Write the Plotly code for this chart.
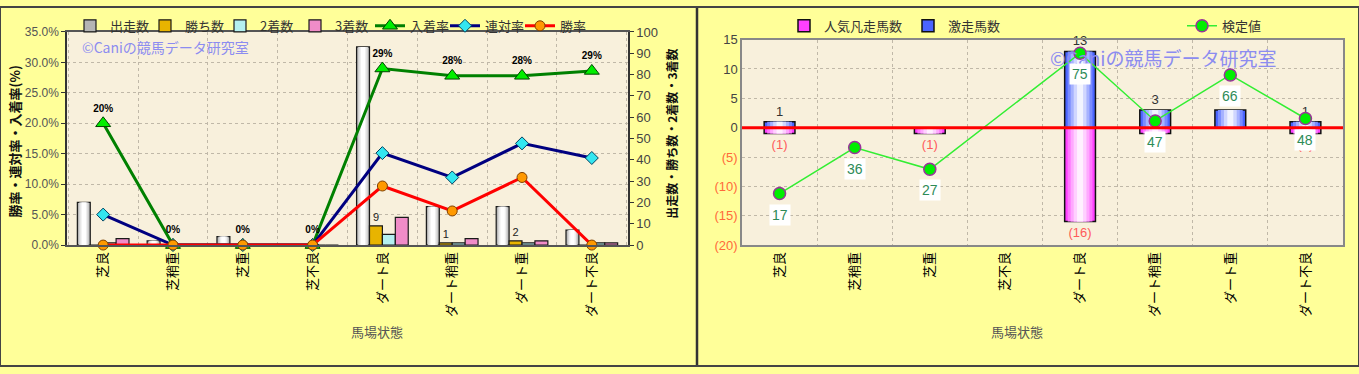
import plotly.graph_objects as go

# ---------------- data ----------------
categories = ["芝良", "芝稍重", "芝重", "芝不良", "ダート良", "ダート稍重", "ダート重", "ダート不良"]

# left chart (counts, right axis)
starts = [20, 2, 4, 0, 93, 18, 18, 7]      # 出走数
wins = [0, 0, 0, 0, 9, 1, 2, 0]            # 勝ち数
seconds = [1, 0, 0, 0, 5, 1, 1, 1]         # 2着数
thirds = [3, 0, 0, 0, 13, 3, 2, 1]         # 3着数
# left chart (rates %, left axis)
place_rate = [20.0, 0, 0, 0, 29.0, 27.8, 27.8, 28.6]     # 入着率
quinella_rate = [5.0, 0, 0, 0, 15.1, 11.1, 16.7, 14.3]   # 連対率
win_rate = [0, 0, 0, 0, 9.7, 5.6, 11.1, 0]               # 勝率

# right chart
surge = [1, 0, 0, 0, 13, 3, 3, 1]          # 激走馬数
flop = [1, 0, 1, 0, 16, 1, 0, 1]           # 人気凡走馬数 (plotted downward)
test_value = [17, 36, 27, None, 75, 47, 66, 48]  # 検定値

left_ticks = [0, 5, 10, 15, 20, 25, 30, 35]
right_ticks = [-20, -15, -10, -5, 0, 5, 10, 15]

JP = "Noto Sans CJK JP"
NUM = "Liberation Sans, Noto Sans CJK JP"

fig = go.Figure()

# ---------- left chart bars ----------
bar_specs = [
    ("出走数", starts, "#b4b4b4", "a"),
    ("勝ち数", wins, "#e8b400", "b"),
    ("2着数", seconds, "#b4f0f0", "c"),
    ("3着数", thirds, "#f08cc8", "d"),
]
for name, vals, col, og in bar_specs:
    fig.add_trace(go.Bar(
        name=name, x=categories, y=vals, xaxis="x", yaxis="y",
        offsetgroup=og, legend="legend",
        marker=dict(color=col, line=dict(color="#1a1a1a", width=1.2)),
        text=[str(v) if (name == "勝ち数" and v > 0) else "" for v in vals],
        textposition="outside", cliponaxis=False,
        textfont=dict(size=11, color="#222", family=NUM),
        hoverinfo="skip",
    ))
# cylinder shading for 出走数
for w, c in [(0.14, "#d6d6d6"), (0.10, "#eeeeee"), (0.06, "#ffffff")]:
    fig.add_trace(go.Bar(
        x=categories, y=starts, xaxis="x", yaxis="y", offsetgroup="a", width=w,
        marker=dict(color=c, line=dict(width=0)), showlegend=False, hoverinfo="skip",
    ))

# ---------- left chart lines ----------
fig.add_trace(go.Scatter(
    name="入着率", x=categories, y=place_rate, xaxis="x", yaxis="y2", legend="legend",
    mode="lines+markers+text",
    text=[f"{v:.0f}%" for v in place_rate], textposition="top center",
    textfont=dict(size=10, color="#000", family=NUM, weight="bold"),
    line=dict(color="#008000", width=3),
    marker=dict(symbol="triangle-up", size=13, color="#00ee00", line=dict(color="#004400", width=1)),
    cliponaxis=False,
))
fig.add_trace(go.Scatter(
    name="連対率", x=categories, y=quinella_rate, xaxis="x", yaxis="y2", legend="legend",
    mode="lines+markers",
    line=dict(color="#000080", width=3),
    marker=dict(symbol="diamond", size=10, color="#33e6f0", line=dict(color="#004060", width=1)),
    cliponaxis=False,
))
fig.add_trace(go.Scatter(
    name="勝率", x=categories, y=win_rate, xaxis="x", yaxis="y2", legend="legend",
    mode="lines+markers",
    line=dict(color="#ff0000", width=3),
    marker=dict(symbol="circle", size=10, color="#ff9900", line=dict(color="#804000", width=1)),
    cliponaxis=False,
))

# ---------- right chart bars (cylinder-like shading with inner layers) ----------
flop_y = [-v for v in flop]
fig.add_trace(go.Bar(
    name="人気凡走馬数", x=categories, y=flop_y, xaxis="x3", yaxis="y3",
    offsetgroup="r", width=0.41, legend="legend2",
    marker=dict(color="#ff40ff", line=dict(color="#111", width=1.5)),
    text=[f"({v})" if v > 0 else "" for v in flop], textposition="outside",
    textfont=dict(size=13, color="#ff5a5a", family=NUM), cliponaxis=False,
    hoverinfo="skip",
))
for w, c in [(0.33, "#ff78ff"), (0.25, "#ffa8ff"), (0.17, "#ffd0ff"), (0.08, "#fff0ff")]:
    fig.add_trace(go.Bar(
        x=categories, y=flop_y, xaxis="x3", yaxis="y3", offsetgroup="r", width=w,
        marker=dict(color=c, line=dict(width=0)), showlegend=False, hoverinfo="skip",
    ))
fig.add_trace(go.Bar(
    name="激走馬数", x=categories, y=surge, xaxis="x3", yaxis="y3",
    offsetgroup="r", width=0.41, legend="legend2",
    marker=dict(color="#4a64ff", line=dict(color="#111", width=1.5)),
    text=[str(v) if v > 0 else "" for v in surge], textposition="outside",
    textfont=dict(size=13, color="#333", family=NUM), cliponaxis=False,
    hoverinfo="skip",
))
for w, c in [(0.33, "#7a8cff"), (0.25, "#a6b2ff"), (0.17, "#d0d6ff"), (0.08, "#f2f4ff")]:
    fig.add_trace(go.Bar(
        x=categories, y=surge, xaxis="x3", yaxis="y3", offsetgroup="r", width=w,
        marker=dict(color=c, line=dict(width=0)), showlegend=False, hoverinfo="skip",
    ))
fig.add_trace(go.Scatter(
    name="検定値", x=categories, y=test_value, xaxis="x3", yaxis="y4", legend="legend3",
    mode="lines+markers", connectgaps=True,
    line=dict(color="#33ee33", width=1.5),
    marker=dict(symbol="circle", size=12, color="#00ee00", line=dict(color="#993399", width=1.5)),
    cliponaxis=False,
))

annotations = []
# value labels for 検定値
for c, v in zip(categories, test_value):
    if v is None:
        continue
    annotations.append(dict(
        x=c, y=v, xref="x3", yref="y4", text=str(v), showarrow=False,
        yshift=-21, bgcolor="#ffffff", borderpad=2,
        font=dict(size=14, color="#2e8b57", family=NUM),
    ))

# watermarks
watermarks = [
    dict(x=80 / 1359, y=1 - 42 / 374, text="©Caniの競馬データ研究室", size=14),
    dict(x=1048 / 1359, y=1 - 53 / 374, text="©Caniの競馬データ研究室", size=19),
]
wm_ann = [dict(x=w["x"], y=w["y"], xref="paper", yref="paper", xanchor="left", yanchor="middle",
               text=w["text"], showarrow=False,
               font=dict(size=w["size"], color="#8c8cf0", family=JP)) for w in watermarks]
annotations = wm_ann + annotations

# axis titles
annotations += [
    dict(x=14 / 1359, y=1 - 140 / 374, xref="paper", yref="paper", text="勝率・連対率・入着率(%)",
         xanchor="center", yanchor="middle",
         textangle=-90, showarrow=False, font=dict(size=13, color="#111", family=JP, weight="bold")),
    dict(x=672 / 1359, y=1 - 132 / 374, xref="paper", yref="paper", text="出走数・勝ち数・2着数・3着数",
         xanchor="center", yanchor="middle",
         textangle=-90, showarrow=False, font=dict(size=12, color="#111", family=JP, weight="bold")),
    dict(x=349 / 1359, y=1 - 350 / 374, xref="paper", yref="paper", text="馬場状態",
         showarrow=False, font=dict(size=13, color="#555", family=JP)),
    dict(x=1045 / 1359, y=1 - 350 / 374, xref="paper", yref="paper", text="馬場状態",
         showarrow=False, font=dict(size=13, color="#555", family=JP)),
]

# right y tick labels, negatives in parentheses, coloured
right_ticktext = [f"<span style='color:#ff6a3a'>({-v})</span>" if v < 0 else str(v) for v in right_ticks]

xdom_l = [67 / 1359, 628 / 1359]
xdom_r = [742 / 1359, 1343 / 1359]
ydom_l = [1 - 248 / 374, 1 - 26 / 374]
ydom_r = [1 - 248 / 374, 1 - 34 / 374]

grid = dict(showgrid=True, gridcolor="#c0b8a8", griddash="dot", gridwidth=1)

fig.update_layout(
    width=1359, height=374,
    margin=dict(l=0, r=0, t=0, b=0),
    paper_bgcolor="#ffff99",
    plot_bgcolor="#f8f0dc",
    barmode="group", bargap=0.26, bargroupgap=0,
    font=dict(family=NUM, size=12, color="#333"),
    showlegend=True,
    xaxis=dict(domain=xdom_l, anchor="y", type="category", tickson="boundaries", ticks="",
               tickangle=-90, tickfont=dict(size=13, color="#000", family=JP),
               showline=True, linecolor="#555", linewidth=1.5, mirror=True, **grid),
    yaxis=dict(domain=ydom_l, anchor="x", side="right", range=[0, 100], dtick=10,
               showgrid=False, ticks="outside", ticklen=4, tickcolor="#333",
               tickfont=dict(size=13, color="#444"), zeroline=False,
               showline=True, linecolor="#333", linewidth=1.5),
    yaxis2=dict(overlaying="y", anchor="x", side="left", range=[0, 35],
                tickvals=left_ticks, ticktext=[f"{v:.1f}%" for v in left_ticks],
                ticks="outside", ticklen=4, tickcolor="#333",
                tickfont=dict(size=12, color="#555"), zeroline=False,
                showline=True, linecolor="#333", linewidth=1.5, **grid),
    xaxis3=dict(domain=xdom_r, anchor="y3", type="category", tickson="boundaries", ticks="",
                tickangle=-90, tickfont=dict(size=13, color="#000", family=JP),
                showline=True, linecolor="#888", linewidth=1.5, mirror=True, **grid),
    yaxis3=dict(domain=ydom_r, anchor="x3", range=[-20, 15], tickvals=right_ticks,
                ticktext=right_ticktext, tickfont=dict(size=13, color="#444"),
                ticks="", zeroline=False,
                showline=True, linecolor="#888", linewidth=1.5, mirror=True, **grid),
    yaxis4=dict(overlaying="y3", anchor="x3", range=[-4.3, 80.6], visible=False),
    legend=dict(orientation="h", x=70 / 1359, y=1 - 4 / 374, xanchor="left", yanchor="top",
                bgcolor="rgba(0,0,0,0)", font=dict(size=13, color="#333", family=JP),
                itemwidth=30, entrywidth=30, traceorder="normal", tracegroupgap=0),
    legend2=dict(orientation="h", x=784 / 1359, y=1 - 4 / 374, xanchor="left", yanchor="top",
                 bgcolor="rgba(0,0,0,0)", font=dict(size=13, color="#333", family=JP),
                 itemwidth=30, entrywidth=79, traceorder="normal"),
    legend3=dict(orientation="h", x=1182 / 1359, y=1 - 4 / 374, xanchor="left", yanchor="top",
                 bgcolor="rgba(0,0,0,0)", font=dict(size=13, color="#333", family=JP),
                 itemwidth=30),
    annotations=annotations,
    shapes=[
        dict(type="line", xref="x3 domain", yref="y3", x0=0, x1=1, y0=0, y1=0,
             line=dict(color="#ff0000", width=3), layer="above"),
        dict(type="line", xref="paper", yref="paper", x0=697 / 1359, x1=697 / 1359, y0=0, y1=1,
             line=dict(color="#333", width=2.5)),
        dict(type="rect", xref="paper", yref="paper", x0=0, x1=1, y0=0, y1=1,
             line=dict(color="#444", width=2)),
    ],
)

fig.write_html(
    "out.html",
    config={"displayModeBar": False},
    post_script="document.body.style.margin='0';document.body.style.overflow='hidden';",
)
